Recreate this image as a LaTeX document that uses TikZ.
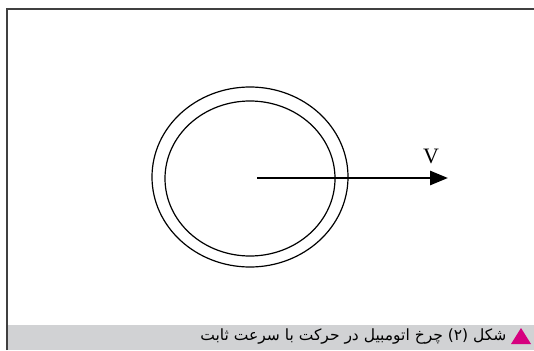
\documentclass[tikz,border=0pt]{standalone}
\usepackage{fontspec}
\setmainfont{Liberation Serif}
\newfontfamily\arabicfont[Script=Arabic]{DejaVu Sans}
\TeXXeTstate=1
\usetikzlibrary{arrows.meta}
\definecolor{FrameGray}{HTML}{404040}
\definecolor{CaptionGray}{HTML}{D1D2D4}
\definecolor{CaptionMagenta}{HTML}{D6007F}

\begin{document}
\begin{tikzpicture}[>={Stealth[inset=0pt,length=18pt,width=14pt]},x=1pt,y=-1pt]
  \useasboundingbox (0,0) rectangle (534,350);
  \fill[CaptionGray] (7,325) rectangle (534,350);
  \draw[FrameGray,line width=1.5pt] (7,350) -- (7,9) -- (534,9);
  \coordinate (hub) at (257,178);
  \coordinate (tip) at (448,178);
  \draw[line width=1.2pt] (250,177) ellipse [x radius=98pt, y radius=90pt];
  \draw[line width=1.2pt] (250,178.5) ellipse [x radius=85pt, y radius=77.5pt];
  \draw[->,line width=2.8pt] (hub) -- (tip);
  \node[font=\fontsize{22}{22}\selectfont] (vlabel) at (431,156) {V};
  \fill[CaptionMagenta] (511,344) -- (531,344) -- (521,328) -- cycle;
  \node[anchor=east,font=\fontsize{15.5}{15.5}\selectfont] (caption) at (510,336)
    {\arabicfont\beginR شکل (۲) چرخ اتومبیل در حرکت با سرعت ثابت\endR};
\end{tikzpicture}
\end{document}
